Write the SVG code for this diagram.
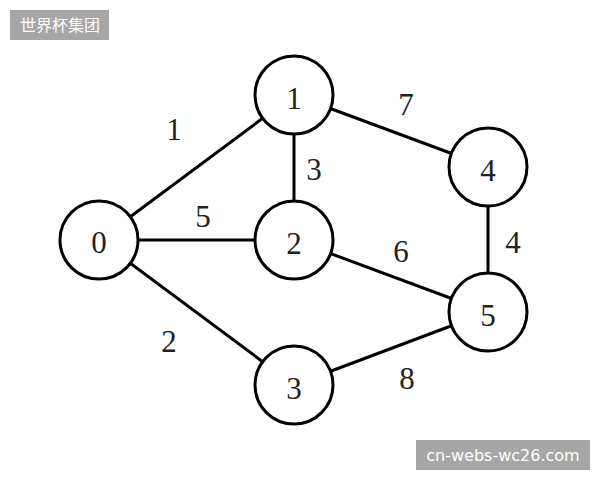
<svg xmlns="http://www.w3.org/2000/svg" width="600" height="480" viewBox="0 0 600 480">
<style>
.edge{stroke:#000;stroke-width:3;fill:none}
.node circle{fill:#fff;stroke:#000;stroke-width:3}
.lbl{font-family:"Liberation Serif","Times New Roman",serif;font-size:31px;fill:#222;text-anchor:middle}
.wm{fill:#a6a6a6}
.wmt{fill:#fff;font-size:16px}
</style>
<rect width="600" height="480" fill="#fff"/>
<g id="connectors">
<line class="edge" x1="99" y1="240" x2="294" y2="95"/>
<line class="edge" x1="99" y1="240" x2="294" y2="240"/>
<line class="edge" x1="99" y1="240" x2="294" y2="385"/>
<line class="edge" x1="294" y1="95" x2="294" y2="240"/>
<line class="edge" x1="294" y1="95" x2="488" y2="167"/>
<line class="edge" x1="294" y1="240" x2="488" y2="312"/>
<line class="edge" x1="488" y1="167" x2="488" y2="312"/>
<line class="edge" x1="294" y1="385" x2="488" y2="312"/>
<text class="lbl" x="174" y="140">1</text>
<text class="lbl" x="203" y="227">5</text>
<text class="lbl" x="169" y="352">2</text>
<text class="lbl" x="314" y="180">3</text>
<text class="lbl" x="406" y="115">7</text>
<text class="lbl" x="401" y="262">6</text>
<text class="lbl" x="513" y="253">4</text>
<text class="lbl" x="407" y="389">8</text>
</g>
<g id="node0" class="node"><circle cx="99" cy="240" r="39"/><text class="lbl" x="99" y="253">0</text></g>
<g id="node1" class="node"><circle cx="294" cy="95" r="39"/><text class="lbl" x="294" y="109">1</text></g>
<g id="node2" class="node"><circle cx="294" cy="240" r="39"/><text class="lbl" x="294" y="254">2</text></g>
<g id="node3" class="node"><circle cx="294" cy="385" r="39"/><text class="lbl" x="294" y="399">3</text></g>
<g id="node4" class="node"><circle cx="488" cy="167" r="39"/><text class="lbl" x="488" y="181">4</text></g>
<g id="node5" class="node"><circle cx="488" cy="312" r="39"/><text class="lbl" x="488" y="326">5</text></g>
<g id="watermark1">
<rect class="wm" x="10" y="10" width="99" height="30"/>
<text class="wmt" x="60" y="31" text-anchor="middle" font-family="'Noto Sans CJK SC',sans-serif">世界杯集团</text>
</g>
<g id="watermark2">
<rect class="wm" x="416" y="440" width="174" height="30"/>
<text class="wmt" x="503" y="461" text-anchor="middle" font-family="'DejaVu Sans',sans-serif">cn-webs-wc26.com</text>
</g>
</svg>
